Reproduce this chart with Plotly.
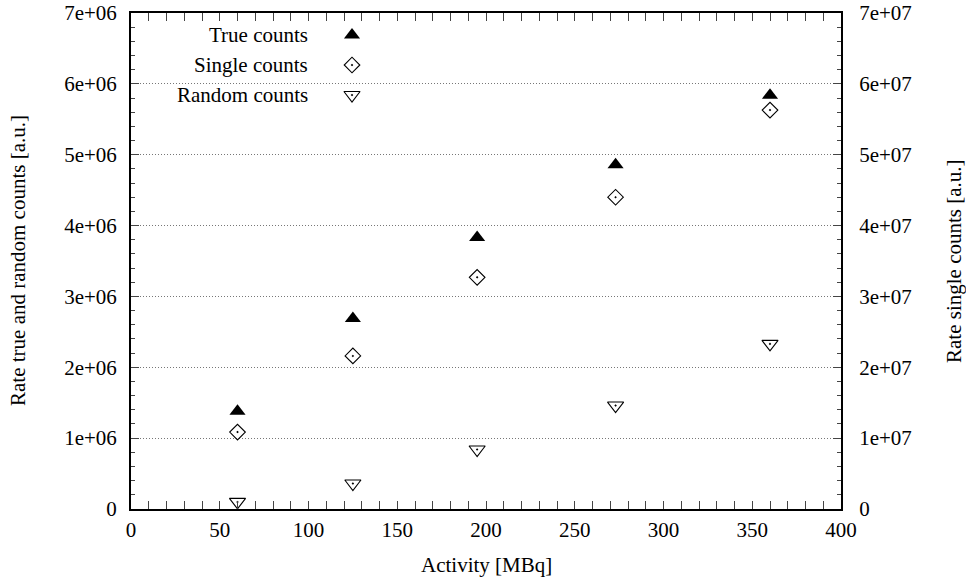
import plotly.graph_objects as go

# Measured rates versus source activity
activity_mbq = [60, 125, 195, 273, 360]
true_counts = [1.38e6, 2.69e6, 3.83e6, 4.86e6, 5.84e6]
single_counts = [1.086e7, 2.16e7, 3.27e7, 4.40e7, 5.63e7]
random_counts = [0.10e6, 0.36e6, 0.84e6, 1.46e6, 2.33e6]

left_tick_values = [0, 1e6, 2e6, 3e6, 4e6, 5e6, 6e6, 7e6]
left_tick_labels = ["0", "1e+06", "2e+06", "3e+06", "4e+06", "5e+06", "6e+06", "7e+06"]
right_tick_values = [0, 1e7, 2e7, 3e7, 4e7, 5e7, 6e7, 7e7]
right_tick_labels = ["0", "1e+07", "2e+07", "3e+07", "4e+07", "5e+07", "6e+07", "7e+07"]

legend_names = ["True counts", "Single counts", "Random counts"]

FONT = "Liberation Serif"
FS = 21
W, H = 966, 587
L, R, T, B = 131, 125, 13, 78

fig = go.Figure()

fig.add_trace(go.Scatter(
    x=activity_mbq, y=true_counts, mode="markers", name=legend_names[0],
    marker=dict(symbol="triangle-up", size=14, color="black", line=dict(width=0)),
    xaxis="x", yaxis="y", showlegend=False))
fig.add_trace(go.Scatter(
    x=activity_mbq, y=single_counts, mode="markers", name=legend_names[1],
    marker=dict(symbol="diamond-open-dot", size=12, color="black", line=dict(width=1.1)),
    xaxis="x", yaxis="y2", showlegend=False))
fig.add_trace(go.Scatter(
    x=activity_mbq, y=random_counts, mode="markers", name=legend_names[2],
    marker=dict(symbol="triangle-down-open-dot", size=14, color="black", line=dict(width=1.1)),
    xaxis="x", yaxis="y", showlegend=False))

# Key block: right-aligned labels with the symbol to their right
key_rows_px = [35, 65, 95]
plot_h = H - T - B
plot_w = W - L - R
key_y = [(H - B - py) / plot_h for py in key_rows_px]
key_sym_x = (352 - L) / plot_w
key_txt_x = (310 - L) / plot_w
key_symbols = ["triangle-up", "diamond-open-dot", "triangle-down-open-dot"]
key_sizes = [14, 12, 14]
for name, ky, sym, sz in zip(legend_names, key_y, key_symbols, key_sizes):
    fig.add_trace(go.Scatter(
        x=[key_sym_x], y=[ky], mode="markers", showlegend=False, hoverinfo="skip",
        marker=dict(symbol=sym, size=sz, color="black", line=dict(width=0 if sym == "triangle-up" else 1.1)),
        xaxis="x3", yaxis="y3"))
    fig.add_annotation(x=key_txt_x, y=ky, xref="paper", yref="paper", text=name,
                       showarrow=False, xanchor="right", yanchor="middle",
                       font=dict(family=FONT, size=FS, color="black"))

# Opaque key background hides the grid behind it
fig.add_shape(type="rect", xref="paper", yref="paper",
              x0=0.003, x1=(393 - L) / plot_w, y0=(H - B - 112) / plot_h, y1=0.997,
              fillcolor="white", line=dict(width=0), layer="between")

tick_font = dict(family=FONT, size=FS, color="black")
grid = dict(showgrid=True, gridcolor="#777777", gridwidth=1, griddash="1px,2px")

fig.update_layout(
    width=W, height=H,
    margin=dict(l=L, r=R, t=T, b=B, autoexpand=False),
    paper_bgcolor="white", plot_bgcolor="white",
    font=dict(family=FONT, size=FS, color="black"),
    xaxis=dict(range=[0, 400], tick0=0, dtick=50, ticks="inside", ticklen=8, tickwidth=1,
               minor=dict(dtick=10, ticks="inside", ticklen=4, tickwidth=1, showgrid=False),
               showline=True, linecolor="black", linewidth=2, mirror="allticks",
               showgrid=False, zeroline=False, tickfont=tick_font, ticklabelstandoff=1,
               automargin=False),
    yaxis=dict(range=[0, 7e6], tickvals=left_tick_values, ticktext=left_tick_labels,
               ticks="inside", ticklen=8, tickwidth=1,
               minor=dict(dtick=2e5, ticks="inside", ticklen=4, tickwidth=1, showgrid=False),
               showline=True, linecolor="black", linewidth=2, zeroline=False,
               tickfont=tick_font, ticklabelstandoff=8, automargin=False, **grid),
    yaxis2=dict(range=[0, 7e7], tickvals=right_tick_values, ticktext=right_tick_labels,
                overlaying="y", side="right",
                ticks="inside", ticklen=8, tickwidth=1,
                minor=dict(dtick=2e6, ticks="inside", ticklen=4, tickwidth=1, showgrid=False),
                showline=True, linecolor="black", linewidth=2, zeroline=False,
                showgrid=False, tickfont=tick_font, ticklabelstandoff=12, automargin=False),
    xaxis3=dict(range=[0, 1], overlaying="x", visible=False, fixedrange=True),
    yaxis3=dict(range=[0, 1], overlaying="y", visible=False, fixedrange=True),
    showlegend=False,
)

fig.add_annotation(x=0.5, y=-(565 - (H - B)) / plot_h, xref="paper", yref="paper",
                   text="Activity [MBq]", showarrow=False, yanchor="middle",
                   font=dict(family=FONT, size=FS, color="black"))
fig.add_annotation(x=-(L - 18) / plot_w, y=0.5, xref="paper", yref="paper",
                   text="Rate true and random counts [a.u.]", showarrow=False,
                   textangle=-90, xanchor="center", yanchor="middle",
                   font=dict(family=FONT, size=FS, color="black"))
fig.add_annotation(x=1 + (954 - (W - R)) / plot_w, y=0.5, xref="paper", yref="paper",
                   text="Rate single counts [a.u.]", showarrow=False,
                   textangle=-90, xanchor="center", yanchor="middle",
                   font=dict(family=FONT, size=FS, color="black"))

fig.write_html("out.html")
